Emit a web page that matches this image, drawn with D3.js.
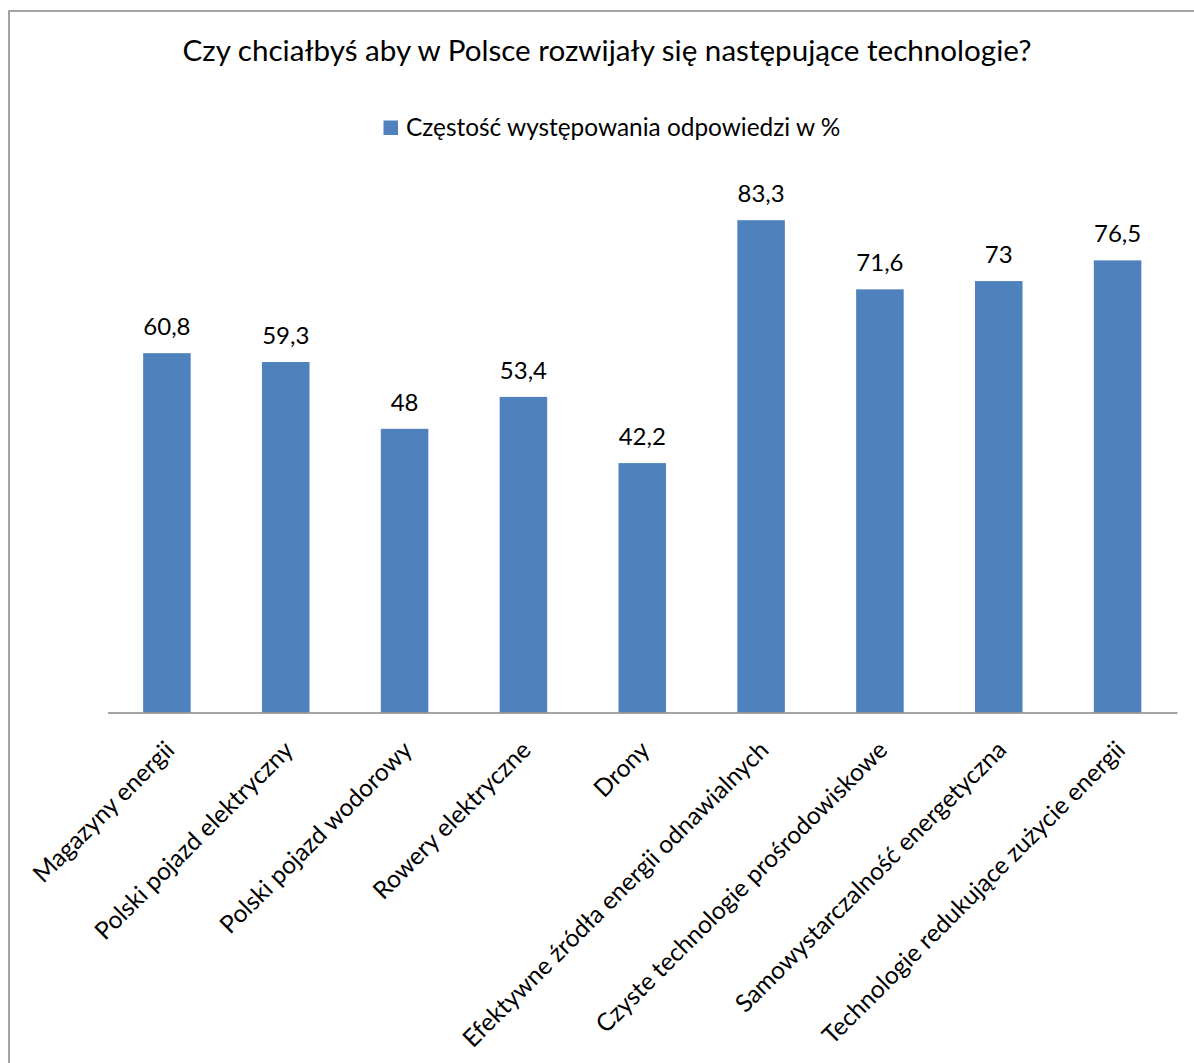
<!DOCTYPE html>
<html>
<head>
<meta charset="utf-8">
<script src="https://cdn.jsdelivr.net/npm/d3@7/dist/d3.min.js"></script>
<style>
  html, body { margin: 0; padding: 0; background: #fff; }
  svg { display: block; }
  text { font-family: Lato, "Open Sans", sans-serif; fill: #000; }
</style>
</head>
<body>
<svg id="chart" width="1194" height="1063"></svg>
<script>
// Survey results: share of answers (%) per technology
const categories = [
  "Magazyny energii",
  "Polski pojazd elektryczny",
  "Polski pojazd wodorowy",
  "Rowery elektryczne",
  "Drony",
  "Efektywne źródła energii odnawialnych",
  "Czyste technologie prośrodowiskowe",
  "Samowystarczalność energetyczna",
  "Technologie redukujące zużycie energii"
];
const values = [60.8, 59.3, 48, 53.4, 42.2, 83.3, 71.6, 73, 76.5];
const valueLabels = ["60,8", "59,3", "48", "53,4", "42,2", "83,3", "71,6", "73", "76,5"];
const seriesName = "Częstość występowania odpowiedzi w %";
const titleText = "Czy chciałbyś aby w Polsce rozwijały się następujące technologie?";

const svg = d3.select("#chart");
const barColor = "#4F81BD";
const frameColor = "#868686";

// outer chart frame (only left and top edges fall inside the page)
svg.append("rect")
  .attr("x", 9).attr("y", 11)
  .attr("width", 1300).attr("height", 1200)
  .attr("fill", "none")
  .attr("stroke", frameColor)
  .attr("stroke-width", 1.5);

const x = d3.scaleBand()
  .domain(categories)
  .range([107.5, 1177])
  .paddingInner(0.6)
  .paddingOuter(0.3);

const y = d3.scaleLinear()
  .domain([0, 90])
  .range([712.5, 180.6]);

// title
svg.append("text")
  .attr("x", 607).attr("y", 61)
  .attr("text-anchor", "middle")
  .style("font-size", "29.6px")
  .text(titleText);

// legend
svg.append("rect")
  .attr("x", 383.5).attr("y", 120.5)
  .attr("width", 14.5).attr("height", 14.5)
  .attr("fill", barColor);
svg.append("text")
  .attr("x", 406).attr("y", 136)
  .style("font-size", "24.4px")
  .text(seriesName);

// bars
svg.append("g").selectAll("rect")
  .data(values)
  .join("rect")
  .attr("x", (d, i) => x(categories[i]))
  .attr("y", d => y(d))
  .attr("width", x.bandwidth())
  .attr("height", d => y(0) - y(d))
  .attr("fill", barColor);

// value labels
svg.append("g").selectAll("text")
  .data(values)
  .join("text")
  .attr("x", (d, i) => x(categories[i]) + x.bandwidth() / 2)
  .attr("y", d => y(d) - 18)
  .attr("text-anchor", "middle")
  .style("font-size", "24px")
  .text((d, i) => valueLabels[i]);

// category axis
const xAxis = svg.append("g")
  .attr("transform", `translate(0, ${y(0)})`)
  .call(d3.axisBottom(x).tickSize(0).tickPadding(0));
xAxis.select(".domain").attr("stroke", frameColor).attr("stroke-width", 1.5);
xAxis.selectAll(".tick text")
  .attr("fill", "#000")
  .attr("text-anchor", "end")
  .attr("dy", null)
  .attr("y", null)
  .style("font-family", "Lato, 'Open Sans', sans-serif")
  .style("font-size", "24.5px")
  .attr("transform", "translate(9, 39) rotate(-45)");
</script>
</body>
</html>
